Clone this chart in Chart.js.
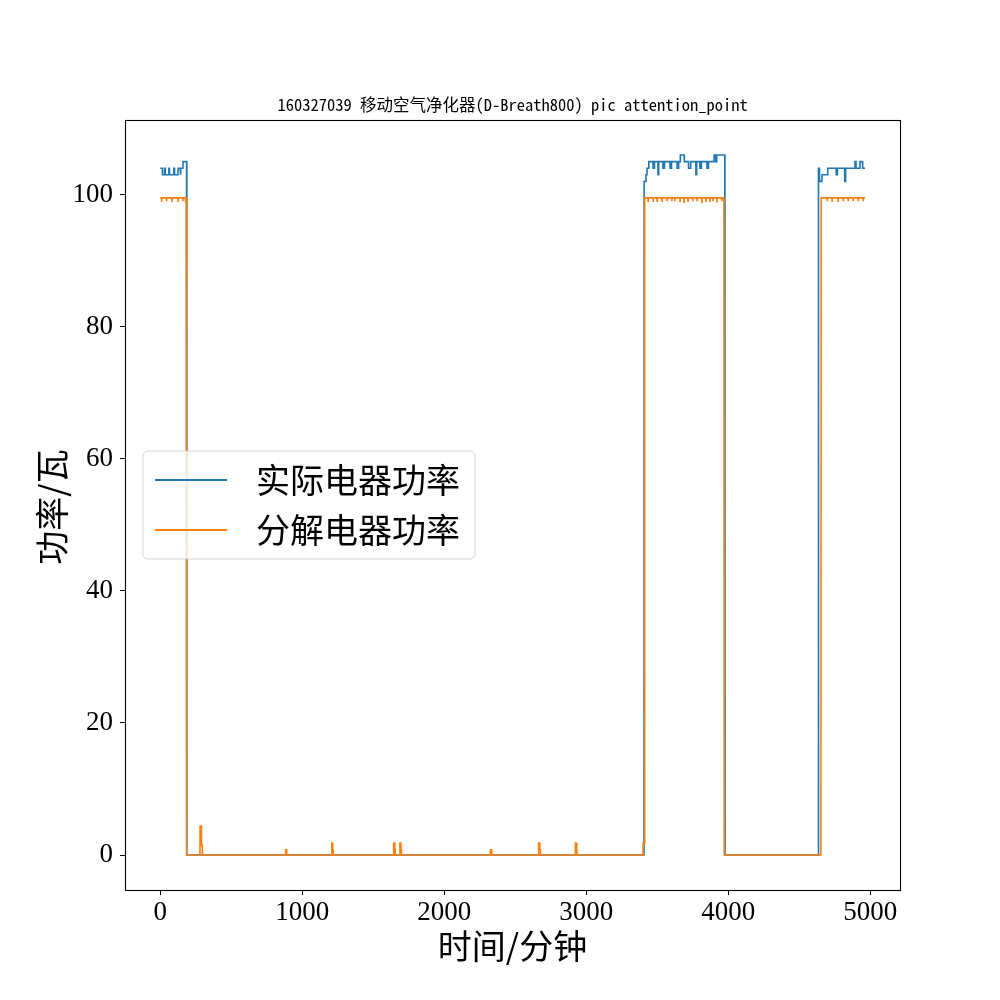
<!DOCTYPE html>
<html>
<head>
<meta charset="utf-8">
<script src="https://cdn.jsdelivr.net/npm/chart.js@4.4.1/dist/chart.umd.min.js"></script>
<style>
  html, body { margin: 0; padding: 0; background: #ffffff; }
  #wrap { width: 1000px; height: 1000px; position: relative; }
</style>
</head>
<body>
<div id="wrap"><canvas id="c" width="1000" height="1000"></canvas></div>
<script>
// ---------- data ----------
const chartTitle = "160327039 移动空气净化器(D-Breath800) pic attention_point";
const xLabel = "时间/分钟";
const yLabel = "功率/瓦";
const seriesNames = ["实际电器功率", "分解电器功率"];
const xTicks = [0, 1000, 2000, 3000, 4000, 5000];
const yTicks = [0, 20, 40, 60, 80, 100];

// actual appliance power (minutes, watts)
const actualTime = [
  0, 15, 16, 30, 31, 35, 36, 60, 61, 64, 65, 95, 96, 100, 101, 125, 126, 140, 141, 145, 146, 160, 161, 186, 187, 188,
  3407, 3408, 3420, 3421, 3428, 3429, 3440, 3441, 3470, 3471, 3480, 3481, 3505, 3506, 3510, 3511, 3540, 3541, 3550, 3551,
  3590, 3591, 3600, 3601, 3640, 3641, 3650, 3651, 3662, 3663, 3690, 3691, 3720, 3721, 3735, 3736, 3772, 3773, 3777, 3778,
  3800, 3801, 3810, 3811, 3850, 3851, 3860, 3861, 3900, 3901, 3912, 3913, 3918, 3919, 3976, 3977, 3978,
  4635, 4636, 4642, 4643, 4660, 4661, 4700, 4701, 4760, 4761, 4768, 4769, 4820, 4821, 4826, 4827, 4892, 4893, 4900, 4901,
  4928, 4929, 4946, 4947, 4964
];
const actualPower = [
  104, 104, 103, 103, 104, 104, 103, 103, 104, 104, 103, 103, 104, 104, 103, 103, 104, 104, 103, 103, 104, 104, 105, 105, 104, 0,
  0, 102, 102, 103, 103, 104, 104, 105, 105, 104, 104, 105, 105, 103, 103, 105, 105, 104, 104, 105,
  105, 104, 104, 105, 105, 104, 104, 105, 105, 106, 106, 105, 105, 104, 104, 105, 105, 103, 103, 105,
  105, 104, 104, 105, 105, 104, 104, 105, 105, 106, 106, 105, 105, 106, 106, 83, 0,
  0, 104, 104, 102, 102, 103, 103, 104, 104, 103, 103, 104, 104, 102, 102, 104, 104, 105, 105, 104,
  104, 105, 105, 104, 104
];

// disaggregated appliance power (minutes, watts)
const disaggTime = [
  0, 9, 10, 11, 44, 45, 46, 82, 83, 84, 124, 125, 126, 159, 160, 161, 177, 178, 179, 183, 184, 186,
  280, 281, 290, 291, 296, 297, 882, 883, 890, 891, 1208, 1209, 1214, 1215, 1218, 1219,
  1643, 1644, 1651, 1652, 1655, 1656, 1687, 1688, 1694, 1695, 1698, 1699, 2324, 2325, 2333, 2334,
  2664, 2665, 2672, 2673, 2677, 2678, 2923, 2924, 2931, 2932, 2935, 2936, 3400, 3401, 3410, 3412,
  3435, 3436, 3437, 3470, 3471, 3472, 3498, 3499, 3500, 3533, 3534, 3535, 3568, 3569, 3570, 3603, 3604, 3605,
  3624, 3625, 3626, 3660, 3661, 3662, 3688, 3689, 3690, 3716, 3717, 3718, 3751, 3752, 3753, 3779, 3780, 3781,
  3815, 3816, 3817, 3843, 3844, 3845, 3871, 3872, 3873, 3892, 3893, 3894, 3920, 3921, 3922, 3955, 3956, 3957, 3970, 3972,
  4653, 4655, 4696, 4697, 4698, 4731, 4732, 4733, 4773, 4774, 4775, 4809, 4810, 4811, 4844, 4845, 4846,
  4879, 4880, 4881, 4915, 4916, 4917, 4950, 4951, 4952, 4964
];
const disaggPower = [
  99.5, 99.5, 98.9, 99.5, 99.5, 99.0, 99.5, 99.5, 98.9, 99.5, 99.5, 98.9, 99.5, 99.5, 99.0, 99.5, 99.5, 98.8, 99.5, 99.5, 90, 0,
  0, 4.4, 4.4, 1.5, 1.5, 0, 0, 0.8, 0.8, 0, 0, 1.8, 1.8, 0.8, 0.8, 0,
  0, 1.8, 1.8, 0.8, 0.8, 0, 0, 1.8, 1.8, 0.8, 0.8, 0, 0, 0.8, 0.8, 0,
  0, 1.8, 1.8, 0.8, 0.8, 0, 0, 1.8, 1.8, 0.8, 0.8, 0, 0, 1.8, 1.8, 99.5,
  99.5, 99.0, 99.5, 99.5, 99.0, 99.5, 99.5, 99.0, 99.5, 99.5, 99.0, 99.5, 99.5, 99.0, 99.5, 99.5, 99.0, 99.5,
  99.5, 99.0, 99.5, 99.5, 99.0, 99.5, 99.5, 98.8, 99.5, 99.5, 99.0, 99.5, 99.5, 99.0, 99.5, 99.5, 99.0, 99.5,
  99.5, 98.8, 99.5, 99.5, 99.0, 99.5, 99.5, 99.0, 99.5, 99.5, 99.0, 99.5, 99.5, 98.8, 99.5, 99.5, 99.0, 99.5, 99.5, 0,
  0, 99.5, 99.5, 99.0, 99.5, 99.5, 99.0, 99.5, 99.5, 99.0, 99.5, 99.5, 99.0, 99.5, 99.5, 99.0, 99.5,
  99.5, 99.0, 99.5, 99.5, 99.0, 99.5, 99.5, 99.0, 99.5, 99.5
];

const xRange = [-248, 5210];
const yRange = [-5.3, 111.3];

// ---------- styles ----------
const BLUE = "#1f77b4";
const ORANGE = "#ff7f0e";
const CJK = '"Noto Sans CJK SC", "Noto Sans CJK JP", sans-serif';
const TICKFONT = '"Liberation Serif", "Times New Roman", serif';

function toPoints(ts, vs) { return ts.map((t, i) => ({ x: t, y: vs[i] })); }

const decor = {
  id: "decor",
  afterDraw(chart) {
    const ctx = chart.ctx;
    const a = chart.chartArea;
    ctx.save();
    // frame
    ctx.strokeStyle = "#000";
    ctx.lineWidth = 1.1;
    ctx.strokeRect(Math.round(a.left) + 0.5, Math.round(a.top) + 0.5,
                   Math.round(a.right - a.left), Math.round(a.bottom - a.top));
    // title
    ctx.fillStyle = "#000";
    ctx.font = '16.5px "Noto Sans Mono CJK SC", "Noto Sans CJK SC", monospace';
    ctx.textAlign = "center";
    ctx.textBaseline = "alphabetic";
    ctx.fillText(chartTitle, (a.left + a.right) / 2, 110.5);
    // x label
    ctx.font = "34px " + CJK;
    ctx.textBaseline = "middle";
    ctx.fillText(xLabel, (a.left + a.right) / 2, 946);
    // y label
    ctx.save();
    ctx.translate(52, (a.top + a.bottom) / 2 + 2);
    ctx.rotate(-Math.PI / 2);
    ctx.fillText(yLabel, 0, 0);
    ctx.restore();
    // legend
    const lx = 143, ly = 451, lw = 332, lh = 108, r = 5;
    ctx.beginPath();
    ctx.moveTo(lx + r, ly);
    ctx.arcTo(lx + lw, ly, lx + lw, ly + lh, r);
    ctx.arcTo(lx + lw, ly + lh, lx, ly + lh, r);
    ctx.arcTo(lx, ly + lh, lx, ly, r);
    ctx.arcTo(lx, ly, lx + lw, ly, r);
    ctx.closePath();
    ctx.fillStyle = "rgba(255,255,255,0.8)";
    ctx.fill();
    ctx.strokeStyle = "rgba(204,204,204,0.8)";
    ctx.lineWidth = 1;
    ctx.stroke();
    const rowsY = [480, 530];
    chart.data.datasets.forEach((ds, i) => {
      ctx.strokeStyle = ds.borderColor;
      ctx.lineWidth = 2;
      ctx.beginPath();
      ctx.moveTo(155, rowsY[i]);
      ctx.lineTo(227, rowsY[i]);
      ctx.stroke();
      ctx.fillStyle = "#000";
      ctx.font = "34px " + CJK;
      ctx.textAlign = "left";
      ctx.textBaseline = "middle";
      ctx.fillText(ds.label, 256, rowsY[i]);
    });
    ctx.restore();
  }
};

new Chart(document.getElementById("c"), {
  type: "line",
  data: {
    datasets: [
      { label: seriesNames[0], data: toPoints(actualTime, actualPower), borderColor: BLUE, backgroundColor: BLUE,
        borderWidth: 1.6, pointRadius: 0, tension: 0, fill: false, order: 1 },
      { label: seriesNames[1], data: toPoints(disaggTime, disaggPower), borderColor: ORANGE, backgroundColor: ORANGE,
        borderWidth: 1.6, pointRadius: 0, tension: 0, fill: false, order: 0 }
    ]
  },
  options: {
    responsive: false,
    animation: false,
    devicePixelRatio: 1,
    layout: { padding: { top: 120, right: 100, bottom: 0, left: 0 } },
    plugins: { legend: { display: false }, title: { display: false }, tooltip: { enabled: false } },
    scales: {
      x: {
        type: "linear", min: xRange[0], max: xRange[1],
        border: { display: false },
        grid: { display: true, drawOnChartArea: false, drawTicks: true, tickLength: 5, color: "#000", lineWidth: 1 },
        ticks: { color: "#000", font: { family: TICKFONT, size: 27 }, padding: 2, maxRotation: 0,
                 callback: (v) => String(v) },
        afterBuildTicks: (s) => { s.ticks = xTicks.map(v => ({ value: v })); },
        afterFit: (s) => { s.height = 110; }
      },
      y: {
        type: "linear", min: yRange[0], max: yRange[1],
        border: { display: false },
        grid: { display: true, drawOnChartArea: false, drawTicks: true, tickLength: 5, color: "#000", lineWidth: 1 },
        ticks: { color: "#000", font: { family: TICKFONT, size: 27 }, padding: 7,
                 callback: (v) => String(v) },
        afterBuildTicks: (s) => { s.ticks = yTicks.map(v => ({ value: v })); },
        afterFit: (s) => { s.width = 125; }
      }
    }
  },
  plugins: [decor]
});
</script>
</body>
</html>
